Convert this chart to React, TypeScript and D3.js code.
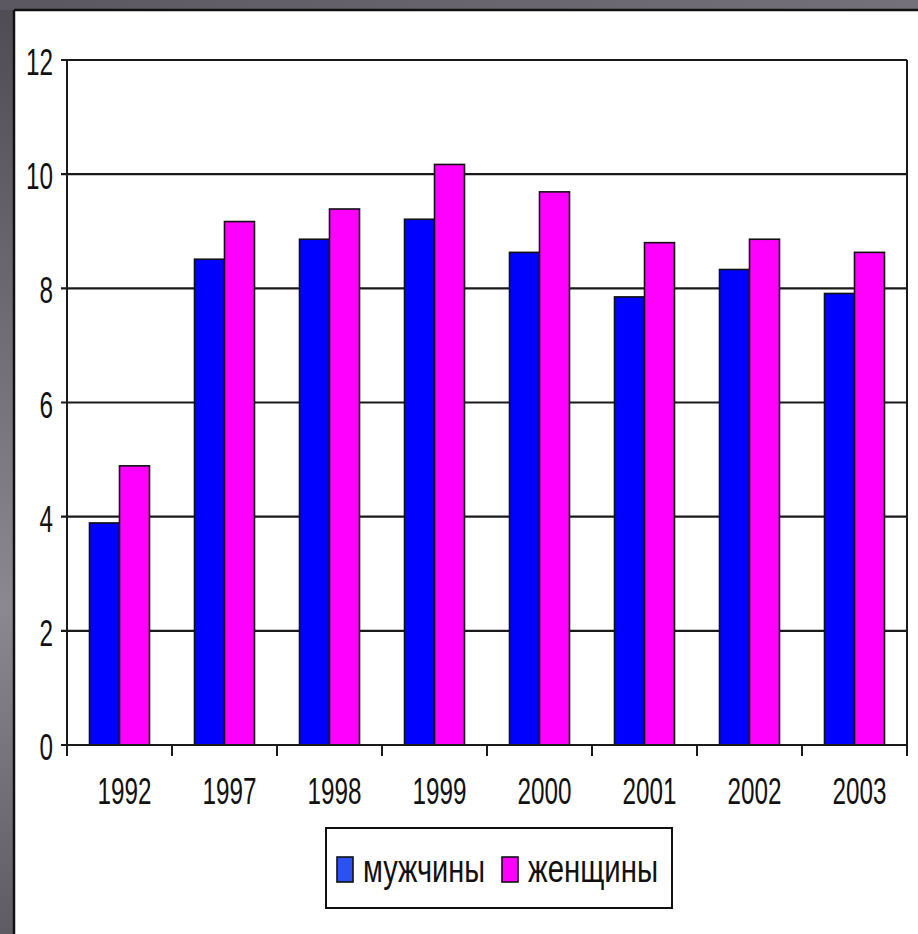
import React from "react";
import * as d3 from "d3";

const years = ["1992", "1997", "1998", "1999", "2000", "2001", "2002", "2003"];
const men = [3.89, 8.51, 8.86, 9.21, 8.63, 7.85, 8.33, 7.91];
const women = [4.89, 9.17, 9.39, 10.17, 9.69, 8.8, 8.86, 8.63];
const yTicks = [0, 2, 4, 6, 8, 10, 12];
const seriesNames = ["мужчины", "женщины"];
const seriesColors = ["#0000ff", "#ff00ff"];

const W = 918;
const H = 934;
const FONT = "'Liberation Sans', Arial, sans-serif";

export default function App() {
  const left = 67;
  const right = 907;
  const top = 60;
  const bottom = 745;

  const x0 = d3.scaleBand<string>().domain(years).range([left, right]).paddingInner(0).paddingOuter(0);
  const y = d3.scaleLinear().domain([0, 12]).range([bottom, top]);
  const bw = x0.bandwidth();
  const barW = bw / 3.5;
  const x1 = d3.scaleBand<number>().domain([0, 1]).range([0, barW * 2]);

  const series = [men, women];

  return (
    <svg
      width={W}
      height={H}
      style={{ position: "absolute", left: 0, top: 0, background: "#fff" }}
      fontFamily={FONT}
    >
      <defs>
        <linearGradient id="leftGrad" x1="0" y1="0" x2="0" y2="1">
          <stop offset="0" stopColor="#4e4b53" />
          <stop offset="0.65" stopColor="#8c8890" />
          <stop offset="1" stopColor="#5e5b63" />
        </linearGradient>
        <linearGradient id="topGrad" x1="0" y1="0" x2="1" y2="0">
          <stop offset="0" stopColor="#5a5760" />
          <stop offset="1" stopColor="#75717a" />
        </linearGradient>
      </defs>
      {/* frame */}
      <rect x={0} y={0} width={W} height={H} fill="#ffffff" />
      <rect x={0} y={0} width={14} height={H} fill="url(#leftGrad)" />
      <rect x={0} y={0} width={W} height={10} fill="url(#topGrad)" />
      <line x1={14} y1={10} x2={14} y2={H} stroke="#111" strokeWidth={2.5} />
      <line x1={14} y1={10} x2={W} y2={10} stroke="#111" strokeWidth={2.5} />

      {/* gridlines */}
      {yTicks.map((t) => (
        <line key={"g" + t} x1={left - 6} x2={right} y1={y(t)} y2={y(t)} stroke="#1a1a1a" strokeWidth={2.2} />
      ))}
      {/* right border */}
      <line x1={right} x2={right} y1={top} y2={bottom + 11} stroke="#1a1a1a" strokeWidth={2} />
      {/* left axis */}
      <line x1={left} x2={left} y1={top} y2={bottom + 11} stroke="#1a1a1a" strokeWidth={2} />

      {/* bars */}
      {years.map((yr, i) => {
        const gx = (x0(yr) as number) + (bw - barW * 2) / 2;
        return (
          <g key={yr}>
            {series.map((s, k) => (
              <rect
                key={k}
                x={gx + (x1(k) as number)}
                y={y(s[i])}
                width={x1.bandwidth()}
                height={y(0) - y(s[i])}
                fill={seriesColors[k]}
                stroke="#111"
                strokeWidth={1.6}
              />
            ))}
          </g>
        );
      })}

      {/* x axis line on top of bars */}
      <line x1={left - 6} x2={right} y1={bottom} y2={bottom} stroke="#1a1a1a" strokeWidth={2.2} />
      {/* x ticks */}
      {years.map((yr) => (
        <line
          key={"t" + yr}
          x1={(x0(yr) as number) + bw}
          x2={(x0(yr) as number) + bw}
          y1={bottom}
          y2={bottom + 11}
          stroke="#1a1a1a"
          strokeWidth={2}
        />
      ))}

      {/* y labels */}
      {yTicks.map((t) => (
        <text
          key={"yl" + t}
          x={53}
          y={y(t) + 15}
          textAnchor="end"
          fontSize={36}
          fill="#111"
          textLength={String(t).length * 13.5}
          lengthAdjust="spacingAndGlyphs"
        >
          {t}
        </text>
      ))}

      {/* x labels */}
      {years.map((yr) => (
        <text
          key={"xl" + yr}
          x={(x0(yr) as number) + bw / 2 + 5}
          y={804}
          textAnchor="middle"
          fontSize={36}
          fill="#111"
          textLength={54}
          lengthAdjust="spacingAndGlyphs"
        >
          {yr}
        </text>
      ))}

      {/* legend */}
      <rect x={326} y={828} width={346} height={80} fill="#fff" stroke="#111" strokeWidth={2} />
      {seriesNames.map((name, k) => {
        const sx = k === 0 ? 337 : 502;
        return (
          <g key={name}>
            <rect x={sx} y={857} width={16} height={25} fill={seriesColors[k] === "#0000ff" ? "#2a52f0" : seriesColors[k]} stroke="#111" strokeWidth={1.6} />
            <text
              x={sx + 26}
              y={882}
              fontSize={38}
              fill="#111"
              textLength={k === 0 ? 122 : 130}
              lengthAdjust="spacingAndGlyphs"
            >
              {name}
            </text>
          </g>
        );
      })}
    </svg>
  );
}
